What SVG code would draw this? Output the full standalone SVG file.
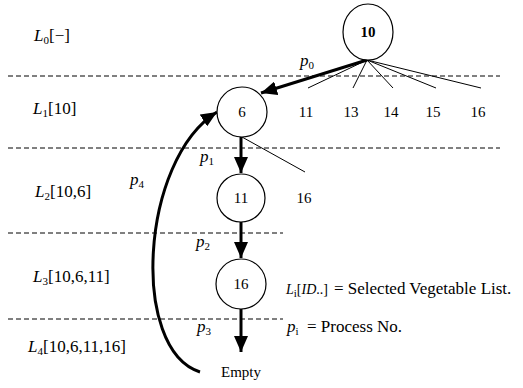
<svg xmlns="http://www.w3.org/2000/svg" width="523" height="388" viewBox="0 0 523 388">
<style>
text{font-family:"Liberation Serif","DejaVu Serif",serif;font-size:15px;fill:#000}
.m{font-size:17px}
.g{font-size:17px}
.l{font-size:14px}
.i{font-style:italic}
.s{font-size:11px}
.c{text-anchor:middle}
.dash{stroke:#000;stroke-width:1;stroke-dasharray:5,3;fill:none}
.node{fill:#fff;stroke:#000;stroke-width:1.2}
.thin{stroke:#000;stroke-width:1;fill:none}
.thick{stroke:#000;stroke-width:3;fill:none;marker-end:url(#ah)}
</style>
<defs>
<marker id="ah" markerUnits="userSpaceOnUse" markerWidth="16" markerHeight="14" refX="16" refY="7" orient="auto" viewBox="0 0 16 14">
<path d="M0,0 L16,7 L0,14 z" fill="#000"/>
</marker>
</defs>
<rect width="523" height="388" fill="#fff"/>
<g id="levels">
<line class="dash" x1="8" y1="76" x2="500" y2="76"/>
<line class="dash" x1="8" y1="148" x2="500" y2="148"/>
<line class="dash" x1="8" y1="233" x2="283" y2="233"/>
<line class="dash" x1="8" y1="319" x2="283" y2="319"/>
</g>
<g id="level-labels">
<text class="m" x="34" y="41"><tspan class="i">L</tspan><tspan class="s" dy="3">0</tspan><tspan dy="-3">[−]</tspan></text>
<text class="m" x="33" y="114"><tspan class="i">L</tspan><tspan class="s" dy="3">1</tspan><tspan dy="-3">[10]</tspan></text>
<text class="m" x="35" y="197"><tspan class="i">L</tspan><tspan class="s" dy="3">2</tspan><tspan dy="-3">[10,6]</tspan></text>
<text class="m" x="33" y="282"><tspan class="i">L</tspan><tspan class="s" dy="3">3</tspan><tspan dy="-3">[10,6,11]</tspan></text>
<text class="m" x="28" y="352"><tspan class="i">L</tspan><tspan class="s" dy="3">4</tspan><tspan dy="-3">[10,6,11,16]</tspan></text>
</g>
<g id="connectors">
<line class="thin" x1="367" y1="60" x2="308" y2="88"/>
<line class="thin" x1="367" y1="60" x2="353" y2="88"/>
<line class="thin" x1="367" y1="60" x2="393" y2="88"/>
<line class="thin" x1="367" y1="60" x2="436" y2="88"/>
<line class="thin" x1="367" y1="60" x2="481" y2="88"/>
<line class="thin" x1="242" y1="137" x2="305" y2="172"/>
<line class="thick" x1="367" y1="60" x2="261" y2="93"/>
<line class="thick" x1="241" y1="137" x2="241" y2="173"/>
<line class="thick" x1="241" y1="222" x2="241" y2="258"/>
<line class="thick" x1="241" y1="309" x2="241" y2="352"/>
<path class="thick" d="M200,372 C130,350 140,160 217,112"/>
</g>
<g id="node-10">
<ellipse class="node" cx="368" cy="32" rx="25" ry="28"/>
<text class="c" x="368" y="37" font-weight="bold">10</text>
</g>
<g id="node-6">
<circle class="node" cx="242" cy="112" r="25"/>
<text class="c" x="242" y="117">6</text>
</g>
<g id="node-11">
<circle class="node" cx="241" cy="198" r="24"/>
<text class="c" x="241" y="203">11</text>
</g>
<g id="node-16">
<circle class="node" cx="241" cy="284" r="25"/>
<text class="c" x="241" y="289">16</text>
</g>
<g id="leaves">
<text class="c" x="306" y="117">11</text>
<text class="c" x="351" y="117">13</text>
<text class="c" x="391" y="117">14</text>
<text class="c" x="433" y="117">15</text>
<text class="c" x="478" y="117">16</text>
<text class="c" x="304" y="203">16</text>
<text class="c" x="241" y="377">Empty</text>
</g>
<g id="process-labels">
<text class="m" x="300" y="66"><tspan class="i">p</tspan><tspan class="s" dy="3">0</tspan></text>
<text class="m" x="200" y="162"><tspan class="i">p</tspan><tspan class="s" dy="3">1</tspan></text>
<text class="m" x="196" y="247"><tspan class="i">p</tspan><tspan class="s" dy="3">2</tspan></text>
<text class="m" x="197" y="332"><tspan class="i">p</tspan><tspan class="s" dy="3">3</tspan></text>
<text class="m" x="130" y="185"><tspan class="i">p</tspan><tspan class="s" dy="3">4</tspan></text>
</g>
<g id="legend">
<text class="l" x="286" y="294"><tspan class="i">L</tspan><tspan class="s" dy="3">i</tspan><tspan dy="-3">[</tspan><tspan class="i">ID</tspan><tspan>..]</tspan></text>
<text class="g" x="334" y="294">= Selected Vegetable List.</text>
<text class="m" x="287" y="332"><tspan class="i">p</tspan><tspan class="s" dy="3">i</tspan></text>
<text class="g" x="307" y="332">= Process No.</text>
</g>
</svg>
